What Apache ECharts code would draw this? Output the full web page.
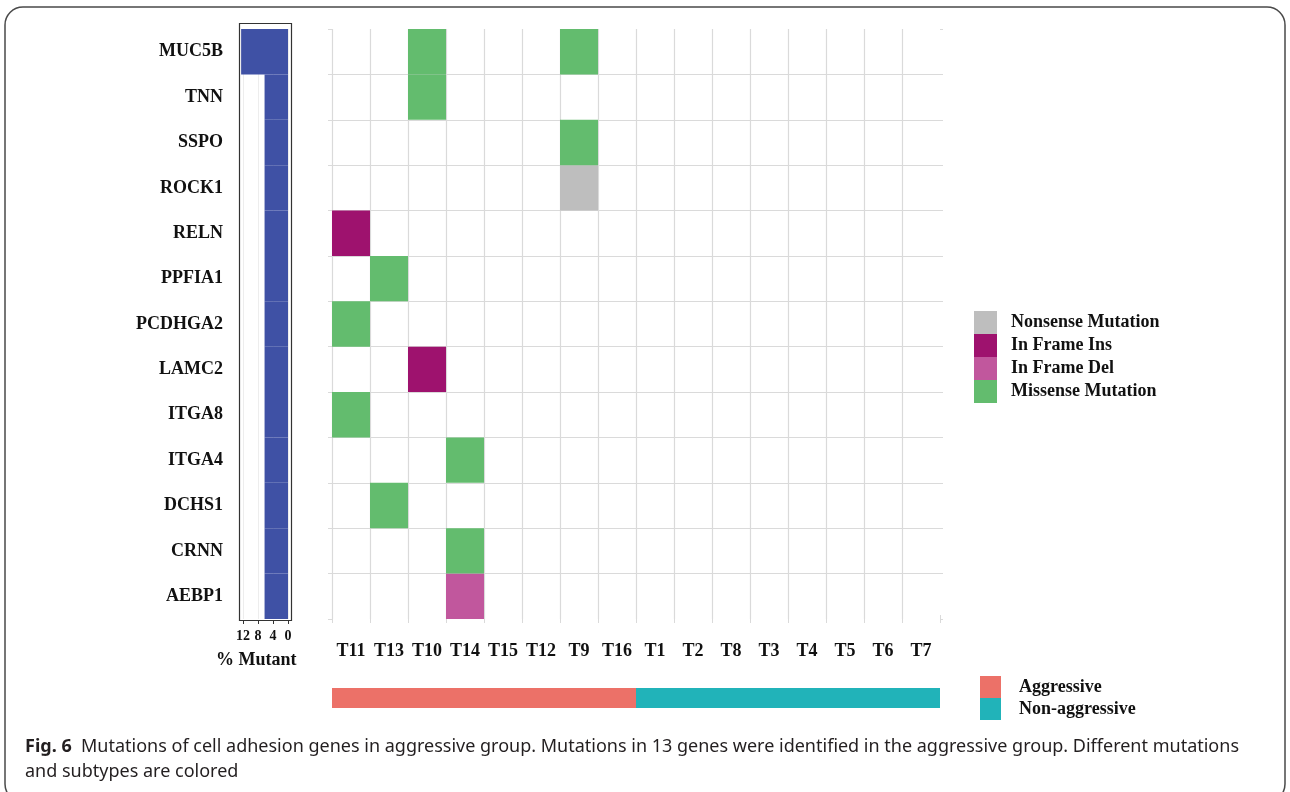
<!DOCTYPE html>
<html>
<head>
<meta charset="utf-8">
<script src="https://cdn.jsdelivr.net/npm/echarts@6/dist/echarts.min.js"></script>
<style>
  html, body { margin: 0; padding: 0; background: #ffffff; }
  #chart { width: 1290px; height: 792px; }
</style>
</head>
<body>
<div id="chart"></div>
<script>
// Samples in display order, genes top to bottom
const samples = ['T11', 'T13', 'T10', 'T14', 'T15', 'T12', 'T9', 'T16',
                 'T1', 'T2', 'T8', 'T3', 'T4', 'T5', 'T6', 'T7'];
const sampleGroups = ['Aggressive', 'Aggressive', 'Aggressive', 'Aggressive',
                      'Aggressive', 'Aggressive', 'Aggressive', 'Aggressive',
                      'Non-aggressive', 'Non-aggressive', 'Non-aggressive', 'Non-aggressive',
                      'Non-aggressive', 'Non-aggressive', 'Non-aggressive', 'Non-aggressive'];
const genes = ['MUC5B', 'TNN', 'SSPO', 'ROCK1', 'RELN', 'PPFIA1', 'PCDHGA2',
               'LAMC2', 'ITGA8', 'ITGA4', 'DCHS1', 'CRNN', 'AEBP1'];
// Percentage of samples carrying a mutation in each gene
const pctMutant = [12.5, 6.25, 6.25, 6.25, 6.25, 6.25, 6.25, 6.25, 6.25, 6.25, 6.25, 6.25, 6.25];
const pctTicks = [0, 4, 8, 12];

const mutationTypes = ['Nonsense Mutation', 'In Frame Ins', 'In Frame Del', 'Missense Mutation'];
const mutationColors = ['#BEBEBE', '#9E126E', '#C1579D', '#63BC6E'];
// [gene, sample, mutation type]
const mutations = [
  ['MUC5B', 'T10', 'Missense Mutation'],
  ['MUC5B', 'T9', 'Missense Mutation'],
  ['TNN', 'T10', 'Missense Mutation'],
  ['SSPO', 'T9', 'Missense Mutation'],
  ['ROCK1', 'T9', 'Nonsense Mutation'],
  ['RELN', 'T11', 'In Frame Ins'],
  ['PPFIA1', 'T13', 'Missense Mutation'],
  ['PCDHGA2', 'T11', 'Missense Mutation'],
  ['LAMC2', 'T10', 'In Frame Ins'],
  ['ITGA8', 'T11', 'Missense Mutation'],
  ['ITGA4', 'T14', 'Missense Mutation'],
  ['DCHS1', 'T13', 'Missense Mutation'],
  ['CRNN', 'T14', 'Missense Mutation'],
  ['AEBP1', 'T14', 'In Frame Del']
];
const groupNames = ['Aggressive', 'Non-aggressive'];
const groupColors = ['#EC7168', '#21B3B9'];

const serif = "'Liberation Serif', 'Times New Roman', serif";
const sans = "'Noto Sans', sans-serif";
const gridColor = '#DADADA';

// Draws one filled band-sized rectangle per data item
function cellRect(params, api) {
  const c = api.coord([api.value(0), api.value(1)]);
  const s = api.size([1, 1]);
  return {
    type: 'rect',
    shape: { x: c[0] - s[0] / 2, y: c[1] - s[1] / 2, width: s[0], height: s[1] },
    style: api.style()
  };
}

const mutationSeries = mutationTypes.map((t, i) => ({
  name: t,
  type: 'custom',
  xAxisIndex: 0,
  yAxisIndex: 0,
  renderItem: cellRect,
  itemStyle: { color: mutationColors[i] },
  data: mutations.filter(m => m[2] === t).map(m => [samples.indexOf(m[1]), genes.indexOf(m[0])]),
  z: 3
}));

const groupSeries = groupNames.map((g, i) => ({
  name: g,
  type: 'custom',
  xAxisIndex: 3,
  yAxisIndex: 4,
  renderItem: cellRect,
  itemStyle: { color: groupColors[i] },
  data: sampleGroups.map((sg, k) => sg === g ? [k, 0] : null).filter(d => d)
}));

const option = {
  animation: false,
  backgroundColor: '#ffffff',
  title: {
    left: 20,
    top: 729,
    text: '{b|Fig. 6}  Mutations of cell adhesion genes in aggressive group. Mutations in 13 genes were identified in the aggressive group. Different mutations\nand subtypes are colored',
    textStyle: {
      fontFamily: sans,
      fontSize: 18,
      fontWeight: 'normal',
      color: '#231F20',
      lineHeight: 25,
      rich: {
        b: { fontFamily: sans, fontSize: 18, fontWeight: 'bold', color: '#231F20', lineHeight: 25 }
      }
    }
  },
  legend: [
    {
      data: mutationTypes,
      orient: 'vertical',
      left: 969,
      top: 306,
      itemWidth: 23,
      itemHeight: 23,
      itemGap: 0,
      icon: 'rect',
      selectedMode: false,
      textStyle: { fontFamily: serif, fontWeight: 'bold', fontSize: 18, color: '#111', padding: [0, 0, 0, 9] }
    },
    {
      data: groupNames,
      orient: 'vertical',
      left: 975,
      top: 671,
      itemWidth: 21,
      itemHeight: 22,
      itemGap: 0,
      icon: 'rect',
      selectedMode: false,
      textStyle: { fontFamily: serif, fontWeight: 'bold', fontSize: 18, color: '#111', padding: [0, 0, 0, 13] }
    }
  ],
  grid: [
    { left: 332, top: 29, width: 608, height: 590 },   // mutation matrix
    { left: 243, top: 29, width: 45, height: 590 },    // % mutant bars
    { left: 332, top: 688, width: 608, height: 20 }    // group annotation
  ],
  xAxis: [
    {
      type: 'category', gridIndex: 0, data: samples, position: 'bottom',
      axisLine: { show: false },
      axisTick: { show: true, length: 4, lineStyle: { color: gridColor } },
      axisLabel: {
        interval: 0, hideOverlap: false,
        fontFamily: serif, fontWeight: 'bold', fontSize: 18, color: '#111', margin: 23
      },
      splitLine: { show: false }
    },
    {
      type: 'value', gridIndex: 0, min: 0, max: 16, interval: 1, position: 'top',
      axisLine: { show: false },
      axisTick: { show: true, length: 4, lineStyle: { color: gridColor } },
      axisLabel: { show: false },
      splitLine: { show: true, showMinLine: true, showMaxLine: false, lineStyle: { color: gridColor, width: 1.2 } }
    },
    {
      type: 'value', gridIndex: 1, min: 0, max: 12, interval: 4, inverse: true, offset: 2,
      axisLine: { show: false },
      axisTick: { show: true, length: 3, lineStyle: { color: '#333' } },
      axisLabel: {
        fontFamily: serif, fontWeight: 'bold', fontSize: 14, color: '#111', margin: 8,
        formatter: v => pctTicks.includes(v) ? String(v) : ''
      },
      splitLine: { show: true, lineStyle: { color: '#EDEDED' } }
    },
    {
      type: 'category', gridIndex: 2, data: samples, show: false
    }
  ],
  yAxis: [
    {
      type: 'category', gridIndex: 0, data: genes, inverse: true,
      axisLine: { show: false }, axisTick: { show: false }, axisLabel: { show: false },
      splitLine: { show: false }
    },
    {
      type: 'value', gridIndex: 0, min: 0, max: 13, interval: 1, position: 'left',
      axisLine: { show: false },
      axisTick: { show: true, length: 4, lineStyle: { color: gridColor } },
      axisLabel: { show: false },
      splitLine: { show: true, showMinLine: false, showMaxLine: false, lineStyle: { color: gridColor, width: 1.2 } }
    },
    {
      type: 'value', gridIndex: 0, min: 0, max: 13, interval: 1, position: 'right',
      axisLine: { show: false },
      axisTick: { show: true, length: 3, lineStyle: { color: gridColor } },
      axisLabel: { show: false },
      splitLine: { show: false }
    },
    {
      type: 'category', gridIndex: 1, data: genes, inverse: true, offset: 4,
      axisLine: { show: false },
      axisTick: { show: true, alignWithLabel: true, length: 6, lineStyle: { color: '#333' } },
      axisLabel: { interval: 0, fontFamily: serif, fontWeight: 'bold', fontSize: 18, color: '#111', margin: 16 },
      splitLine: { show: false }
    },
    {
      type: 'category', gridIndex: 2, data: ['group'], show: false
    }
  ],
  graphic: [
    {
      type: 'rect', z: -10, silent: true,
      shape: { x: 5, y: 7, width: 1280, height: 795, r: 18 },
      style: { fill: 'none', stroke: '#4A4A4A', lineWidth: 1.5 }
    },
    {
      type: 'rect', z: 100, silent: true,
      shape: { x: 239.5, y: 23.5, width: 52, height: 597 },
      style: { fill: 'none', stroke: '#333', lineWidth: 1.2 }
    },
    {
      type: 'text', left: 216, top: 651, silent: true,
      style: { text: '% Mutant', fontFamily: serif, fontWeight: 'bold', fontSize: 18, fill: '#111' }
    }
  ],
  series: [
    ...mutationSeries,
    {
      name: '% Mutant',
      type: 'bar',
      xAxisIndex: 2,
      yAxisIndex: 3,
      data: pctMutant,
      barCategoryGap: '0%',
      clip: false,
      itemStyle: { color: '#3F51A5' },
      z: 2
    },
    ...groupSeries
  ]
};

const chart = echarts.init(document.getElementById('chart'), null, { renderer: 'canvas' });
chart.setOption(option);
</script>
</body>
</html>
